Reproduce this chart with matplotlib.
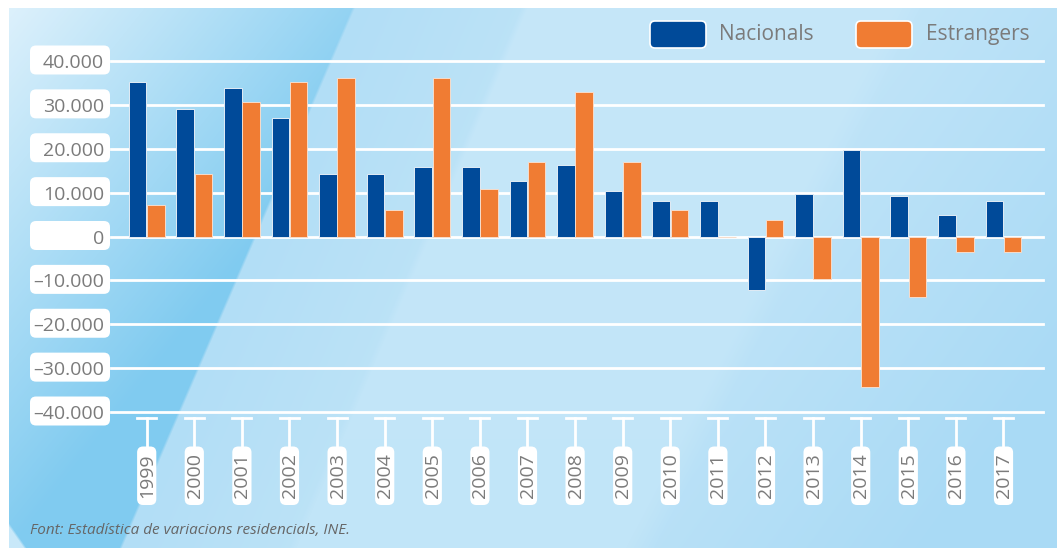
import numpy as np
import matplotlib
matplotlib.use('Agg')
import matplotlib.pyplot as plt
from matplotlib.patches import FancyBboxPatch
import matplotlib.transforms as mtransforms
import matplotlib.colors as mcolors

# data
years = ['1999', '2000', '2001', '2002', '2003', '2004', '2005', '2006', '2007', '2008',
         '2009', '2010', '2011', '2012', '2013', '2014', '2015', '2016', '2017']
nacionals = [35100, 29000, 33900, 26900, 14200, 14200, 15900, 15900, 12600, 16400,
             10400, 8200, 8200, -12300, 9600, 19700, 9300, 4800, 8200]
estrangers = [7200, 14300, 30700, 35100, 36100, 6100, 36100, 10900, 16900, 32900,
              16900, 6100, -200, 3800, -9600, -34300, -13900, -3600, -3600]
series_names = ['Nacionals', 'Estrangers']
yticks = [40000, 30000, 20000, 10000, 0, -10000, -20000, -30000, -40000]
ytick_labels = ['40.000', '30.000', '20.000', '10.000', '0',
                '\u201310.000', '\u201320.000', '\u201330.000', '\u201340.000']
source = 'Font: Estad\u00edstica de variacions residencials, INE.'

BLUE = '#004a99'
ORANGE = '#f07c33'
GREY = '#7b7b7b'
FONT = ['Open Sans', 'DejaVu Sans']

W, H = 1057, 548

def rgb(h):
    return np.array(mcolors.to_rgb(h))

def mix(c0, c1, t):
    t = np.asarray(t)[..., None]
    return rgb(c0) * (1 - t) + rgb(c1) * t

def soft(d, w=5.0):
    return np.clip(0.5 + d / w, 0, 1)

# background picture (light blue with soft diagonal streaks)
yy, xx = np.mgrid[0:H, 0:W].astype(float)
xl1 = 353 + (120 - 353) * (yy - 8) / 540
xa = 524 + (292 - 524) * (yy - 8) / 540
xc = 907 + (640 - 907) * (yy - 8) / 540

img = mix('#c6e7f9', '#c1e5f8', np.clip(yy / 548, 0, 1))
# darker strip between L1 and A
strip = mix('#b2def6', '#bde3f7', np.clip((xx - xl1) / 200, 0, 1))
t = soft(xa - xx, 8)
img = img * (1 - t[..., None]) + strip * t[..., None]
# darker towards the right, beyond C
rside = mix('#c0e4f8', '#a9daf5', np.clip((xx - xc) / 420 + yy / 1800, 0, 1))
t = soft(xx - xc, 30)
img = img * (1 - t[..., None]) + rside * t[..., None]
# left wedge, light at the corner, deep blue further down
lside = mix('#e0f2fc', '#80cbf0', np.clip((xx + 0.8 * yy) / 450, 0, 1))
t = soft(xl1 - xx, 3)
img = img * (1 - t[..., None]) + lside * t[..., None]
t = soft((yy - 525) * 0.7 - (xx - 9), 3)
img = img * (1 - t[..., None]) + rgb('#c8e8f9') * t[..., None]
img[(xx < 9) | (yy < 8)] = 1.0

fig = plt.figure(figsize=(W / 100, H / 100), dpi=100)
bg = fig.add_axes([0, 0, 1, 1])
bg.imshow(img, extent=(0, W, H, 0), interpolation='bilinear', aspect='auto')
bg.set_xlim(0, W)
bg.set_ylim(H, 0)
bg.axis('off')

# main axes placed in pixel coordinates
px_top, px_bot = 58.8, 414.2
px_left, px_right = 111, 1043
ax = fig.add_axes([px_left / W, (H - px_bot) / H, (px_right - px_left) / W, (px_bot - px_top) / H])
ax.patch.set_visible(False)
for s in ax.spines.values():
    s.set_visible(False)
ax.set_ylim(-40500, 40500)
ax.set_xlim(-0.75, 18.83)
ax.set_axisbelow(True)

x = np.arange(len(years))
bw = 0.37
ax.bar(x - 0.19, nacionals, bw, color=BLUE, edgecolor='#e3ecf5', linewidth=0.7, zorder=3)
ax.bar(x + 0.19, estrangers, bw, color=ORANGE, edgecolor='#f6dccb', linewidth=0.7, zorder=3)

for v in yticks:
    ax.axhline(v, color='white', lw=2, zorder=1, clip_on=False)

ax.set_yticks(yticks)
ax.set_yticklabels(ytick_labels, fontsize=14, color=GREY, family=FONT)
ax.tick_params(axis='y', length=0, pad=5)
ax.set_xticks([])

# white boxes behind y labels (x in pixels, y in data)
trans_y = mtransforms.blended_transform_factory(bg.transData, ax.transData)
dpy = 81000 / (px_bot - px_top)  # data units per pixel
for v in yticks:
    ax.add_patch(FancyBboxPatch((30, v - 13.5 * dpy), 80, 29 * dpy,
                                boxstyle='round,pad=0,rounding_size=6', mutation_aspect=dpy,
                                fc='white', ec='none', transform=trans_y, clip_on=False, zorder=0))

# year ticks and labels (x in data, y in pixels)
trans_x = mtransforms.blended_transform_factory(ax.transData, bg.transData)
ppx = (px_right - px_left) / (18.83 + 0.75)  # pixels per category
for i, yr in enumerate(years):
    ax.plot([i, i], [418, 447], color='white', lw=2, transform=trans_x, clip_on=False, zorder=1)
    ax.plot([i - 9.5 / ppx, i + 9.5 / ppx], [418, 418], color='white', lw=2,
            transform=trans_x, clip_on=False, zorder=1)
    ax.add_patch(FancyBboxPatch((i - 9.6 / ppx, 446.5), 19.2 / ppx, 58.5,
                                boxstyle='round,pad=0,rounding_size=%f' % (6 / ppx), mutation_aspect=ppx,
                                fc='white', ec='none', transform=trans_x, clip_on=False, zorder=2))
    ax.text(i + 0.5 / ppx, 476, yr, rotation=90, ha='center', va='center', fontsize=14,
            color=GREY, family=FONT, transform=trans_x, clip_on=False, zorder=3)

# legend
for (x0, tx), name, col in zip([(650, 719), (856, 926)], series_names, [BLUE, ORANGE]):
    bg.add_patch(FancyBboxPatch((x0, 21), 56, 27, boxstyle='round,pad=0,rounding_size=5',
                                fc=col, ec='white', lw=1.2, zorder=3))
    bg.text(tx, 34.5, name, ha='left', va='center', fontsize=15, color=GREY, family=FONT, zorder=3)

bg.text(30, 530, source, ha='left', va='center', fontsize=11, style='italic',
        color='#666666', family=FONT)

fig.savefig('out.png', dpi=100)
